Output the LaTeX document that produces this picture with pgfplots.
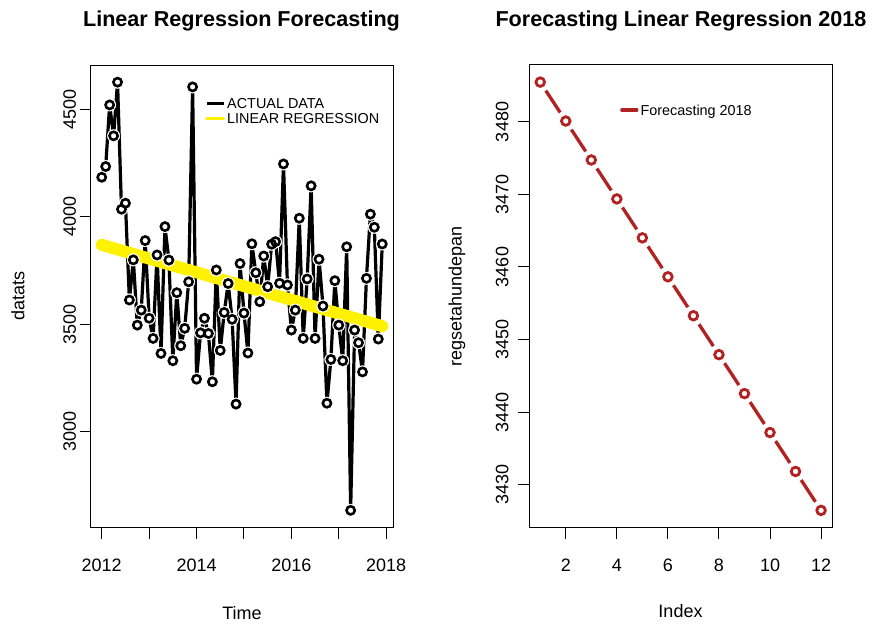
\documentclass[border=0pt]{standalone}
\usepackage{fontspec}
\setmainfont{Liberation Sans}
\usepackage{pgfplots}
\pgfplotsset{compat=1.18}
\usepackage{pgfplotstable}
\definecolor{firebrick}{RGB}{178,34,34}

\pgfplotstableread{
t y
2012.0000 4185
2012.0833 4235
2012.1667 4522
2012.2500 4378
2012.3333 4628
2012.4167 4036
2012.5000 4064
2012.5833 3613
2012.6667 3800
2012.7500 3496
2012.8333 3566
2012.9167 3890
2013.0000 3528
2013.0833 3434
2013.1667 3823
2013.2500 3364
2013.3333 3955
2013.4167 3799
2013.5000 3330
2013.5833 3647
2013.6667 3400
2013.7500 3481
2013.8333 3698
2013.9167 4606
2014.0000 3244
2014.0833 3460
2014.1667 3528
2014.2500 3457
2014.3333 3232
2014.4167 3753
2014.5000 3378
2014.5833 3555
2014.6667 3690
2014.7500 3523
2014.8333 3128
2014.9167 3783
2015.0000 3552
2015.0833 3366
2015.1667 3875
2015.2500 3740
2015.3333 3605
2015.4167 3818
2015.5000 3675
2015.5833 3873
2015.6667 3885
2015.7500 3691
2015.8333 4247
2015.9167 3683
2016.0000 3473
2016.0833 3566
2016.1667 3994
2016.2500 3434
2016.3333 3711
2016.4167 4145
2016.5000 3434
2016.5833 3803
2016.6667 3585
2016.7500 3132
2016.8333 3336
2016.9167 3703
2017.0000 3496
2017.0833 3330
2017.1667 3861
2017.2500 2633
2017.3333 3473
2017.4167 3414
2017.5000 3278
2017.5833 3714
2017.6667 4013
2017.7500 3952
2017.8333 3431
2017.9167 3874
}\actual

\pgfplotstableread{
t y
2012.0000 3870
2017.9167 3491
}\regline

\pgfplotstableread{
idx y
1 3485.50
2 3480.13
3 3474.76
4 3469.39
5 3464.02
6 3458.65
7 3453.28
8 3447.91
9 3442.54
10 3437.17
11 3431.80
12 3426.43
}\forecast

\begin{document}
\begin{tikzpicture}[x=1pt,y=1pt]
\useasboundingbox (0,0) rectangle (872,625);
\pgfplotsset{
  rbox/.style={
    scale only axis, anchor=south west,
    axis line style={line width=1pt, black},
    every tick/.style={line width=1pt, black},
    tick align=outside, major tick length=11pt,
    tick pos=left,
    tick label style={font=\fontsize{18}{20}\selectfont},
    xticklabel style={yshift=-17pt},
    legend cell align=left,
  }
}
\begin{axis}[rbox, at={(90.5pt,97.5pt)}, width=303pt, height=462.5pt,
  xmin=2011.763, xmax=2018.154, ymin=2553, ymax=4708,
  xtick={2012,2013,2014,2015,2016,2017,2018},
  xticklabels={2012,,2014,,2016,,2018},
  ytick={3000,3500,4000,4500},
  yticklabels={3000,3500,4000,4500},
  yticklabel style={rotate=90, anchor=south},
  legend style={draw=none, fill=none, at={(0.378,0.933)}, anchor=north west,
    font=\fontsize{14.4}{15}\selectfont, inner sep=0pt, row sep=0pt,
    nodes={inner sep=2pt, text height=10.4pt, text depth=0.5pt}},
]
\addplot[black, line width=3.2pt, line join=round,
  legend image code/.code={\draw[black,line width=3pt] (0pt,0pt) -- (17pt,0pt);}]
  table[x=t,y=y]{\actual};
\addlegendentry{ACTUAL DATA}
\addplot[forget plot, only marks, mark=*, mark size=6.3pt,
  mark options={fill=white, draw=white}] table[x=t,y=y]{\actual};
\addplot[forget plot, only marks, mark=o, mark size=4.1pt,
  mark options={draw=black, fill=white, line width=2.6pt}] table[x=t,y=y]{\actual};
\addplot[yellow, line width=12pt, line cap=round,
  legend image code/.code={\draw[yellow,line width=3pt] (0pt,0pt) -- (17pt,0pt);}]
  table[x=t,y=y]{\regline};
\addlegendentry{LINEAR REGRESSION}
\end{axis}

\begin{axis}[rbox, at={(529pt,97.5pt)}, width=303.3pt, height=462.5pt,
  xmin=0.56, xmax=12.44, ymin=3424.07, ymax=3487.86,
  xtick={2,4,6,8,10,12},
  xticklabels={2,4,6,8,10,12},
  ytick={3430,3440,3450,3460,3470,3480},
  yticklabels={3430,3440,3450,3460,3470,3480},
  yticklabel style={xshift=-6pt, rotate=90, anchor=south},
  legend style={draw=none, fill=none, at={(0.300,0.919)}, anchor=north west,
    font=\fontsize{14.4}{15}\selectfont, inner sep=0pt, row sep=0pt,
    nodes={inner sep=2pt, text height=10.4pt, text depth=0.5pt}},
]
\addplot[firebrick, line width=3.3pt, line cap=round,
  legend image code/.code={\draw[firebrick,line width=3.3pt] (0pt,0pt) -- (15pt,0pt);}]
  table[x=idx,y=y]{\forecast};
\addlegendentry{Forecasting 2018}
\addplot[forget plot, only marks, mark=*, mark size=10pt,
  mark options={fill=white, draw=white}] table[x=idx,y=y]{\forecast};
\addplot[forget plot, only marks, mark=o, mark size=4.3pt,
  mark options={draw=firebrick, fill=white, line width=2.8pt}] table[x=idx,y=y]{\forecast};
\end{axis}

\node[font=\bfseries\fontsize{21.6}{24}\selectfont] at (241.5,604) {Linear Regression Forecasting};
\node[font=\bfseries\fontsize{21.6}{24}\selectfont] at (681,604) {Forecasting Linear Regression 2018};
\node[font=\fontsize{18}{20}\selectfont] at (242,12) {Time};
\node[font=\fontsize{18}{20}\selectfont] at (680.5,14) {Index};
\node[font=\fontsize{18}{20}\selectfont, rotate=90] at (18,328.75) {datats};
\node[font=\fontsize{18}{20}\selectfont, rotate=90] at (457,328.75) {regsetahundepan};
\end{tikzpicture}
\end{document}
